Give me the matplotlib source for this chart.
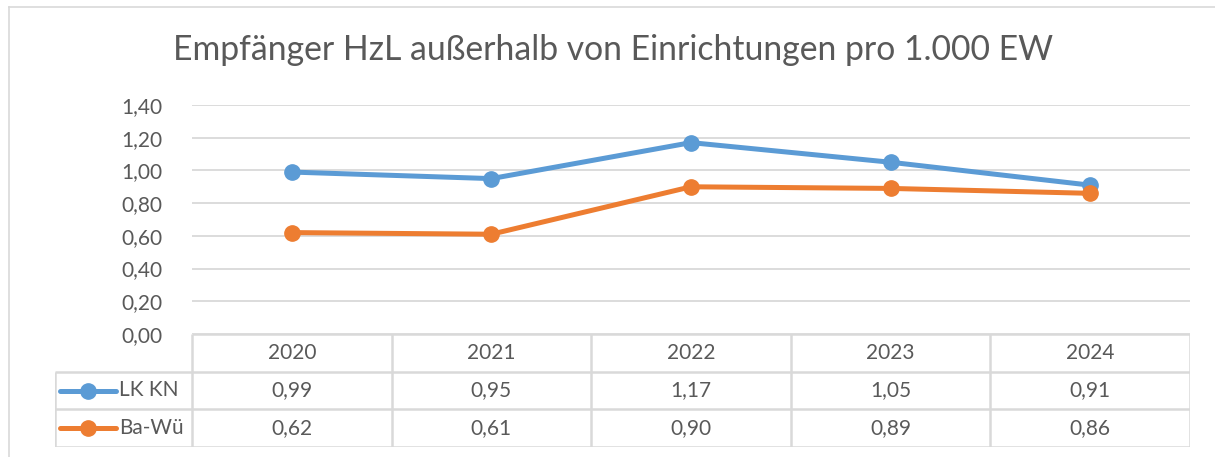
import matplotlib.pyplot as plt
from matplotlib.lines import Line2D

jahre = ["2020", "2021", "2022", "2023", "2024"]
lk_kn = [0.99, 0.95, 1.17, 1.05, 0.91]
ba_wue = [0.62, 0.61, 0.90, 0.89, 0.86]
serien = ["LK KN", "Ba-Wü"]
y_ticks = [0.0, 0.2, 0.4, 0.6, 0.8, 1.0, 1.2, 1.4]

blau = "#5B9BD5"
orange = "#ED7D31"
grau_text = "#595959"
grau_linie = "#D9D9D9"

plt.rcParams["font.family"] = ["Lato", "DejaVu Sans"]

W, H = 1215, 457
fig = plt.figure(figsize=(W / 100, H / 100), dpi=100)


def fx(px):
    return px / W


def fy(py):
    return 1 - py / H


# Rahmen des Diagramms
fig.add_artist(Line2D([fx(9), 1], [fy(7), fy(7)], color=grau_linie, lw=1.2))
fig.add_artist(Line2D([fx(9), fx(9)], [fy(7), 0], color=grau_linie, lw=1.2))

fig.text(fx(613), fy(50), "Empfänger HzL außerhalb von Einrichtungen pro 1.000 EW",
         ha="center", va="center", fontsize=24.3, color=grau_text)

# Liniendiagramm
ax = fig.add_axes([fx(192), fy(334), fx(1190) - fx(192), fy(105) - fy(334)])
x = range(len(jahre))
ax.plot(x, lk_kn, color=blau, lw=3.6, marker="o", ms=11, zorder=3)
ax.plot(x, ba_wue, color=orange, lw=3.6, marker="o", ms=11, zorder=3)
ax.set_xlim(-0.5, len(jahre) - 0.5)
ax.set_ylim(0, 1.4)
ax.set_yticks(y_ticks)
ax.set_yticklabels([f"{v:.2f}".replace(".", ",") for v in y_ticks])
ax.tick_params(axis="y", length=0, pad=21, labelsize=15, labelcolor=grau_text)
ax.set_xticks([])
ax.grid(axis="y", color=grau_linie, lw=1.3, zorder=0)
for s in ax.spines.values():
    s.set_visible(False)

# Datentabelle
tab = fig.add_axes([fx(55), fy(447), fx(1190) - fx(55), fy(334) - fy(447)])
label_w = (192 - 55) / ((1190 - 192) / len(jahre))
x0 = -0.5 - label_w
tab.set_xlim(x0, len(jahre) - 0.5)
tab.set_ylim(3, 0)
tab.axis("off")

lk = dict(color=grau_linie, lw=1.8, solid_capstyle="butt")
tab.plot([-0.5, len(jahre) - 0.5], [0, 0], **lk)
for r in (1, 2, 3):
    tab.plot([x0, len(jahre) - 0.5], [r, r], **lk)
tab.plot([x0, x0], [1, 3], **lk)
for c in range(len(jahre) + 1):
    tab.plot([c - 0.5, c - 0.5], [0, 3], **lk)

for i, j in enumerate(jahre):
    tab.text(i, 0.5, j, ha="center", va="center", fontsize=15, color=grau_text)
for r, (name, werte, farbe) in enumerate(zip(serien, [lk_kn, ba_wue], [blau, orange]), start=1):
    for i, v in enumerate(werte):
        tab.text(i, r + 0.5, f"{v:.2f}".replace(".", ","), ha="center", va="center",
                 fontsize=15, color=grau_text)
    tab.plot([x0 + 0.025, x0 + 0.305], [r + 0.5, r + 0.5], color=farbe, lw=3.6,
             solid_capstyle="round")
    tab.plot([x0 + 0.165], [r + 0.5], "o", color=farbe, ms=11)
    tab.text(x0 + 0.32, r + 0.5, name, ha="left", va="center", fontsize=15, color=grau_text)

fig.savefig("out.png", dpi=100)
